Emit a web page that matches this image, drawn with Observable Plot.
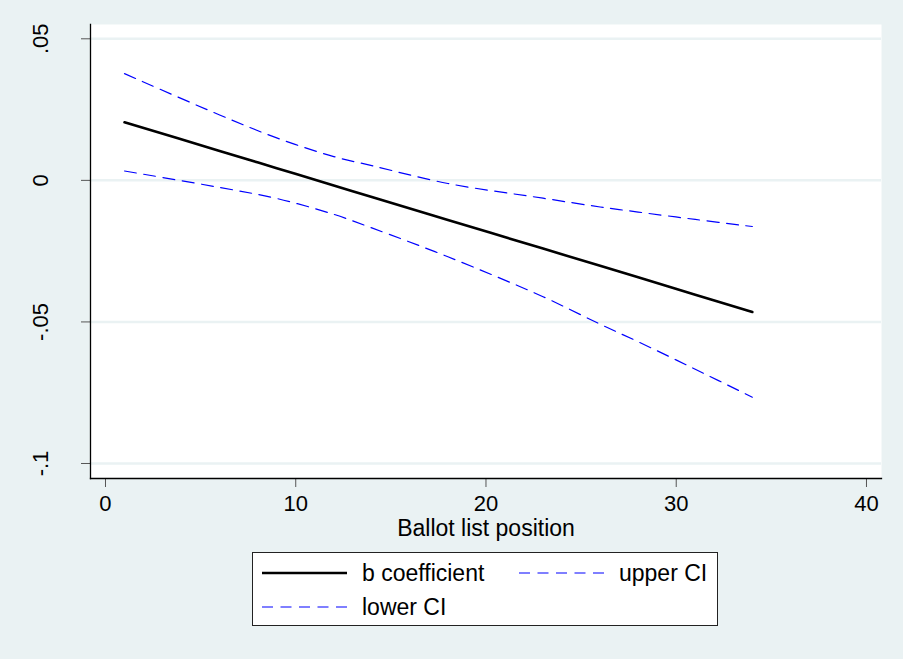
<!DOCTYPE html>
<html>
<head>
<meta charset="utf-8">
<script src="https://cdn.jsdelivr.net/npm/d3@7"></script>
<script src="https://cdn.jsdelivr.net/npm/@observablehq/plot@0.6"></script>
<style>
  html, body { margin: 0; padding: 0; background: #EAF2F3; }
  #wrap { position: relative; width: 903px; height: 659px; background: #EAF2F3; font-family: Arial, "Liberation Sans", sans-serif; overflow: hidden; }
  #chart { position: absolute; left: 0; top: 0; }
  #legend { position: absolute; left: 252px; top: 552px; width: 464px; height: 72px; background: white; border: 1px solid #222; }
</style>
</head>
<body>
<div id="wrap">
  <div id="chart"></div>
  <div id="legend"></div>
</div>
<script>
// Data
const positions   = [1, 6, 9, 12, 14, 18, 23, 26, 28, 31, 34];
const bCoef       = [0.0205, 0.0104, 0.0043, -0.0018, -0.0059, -0.0140, -0.0241, -0.0302, -0.0342, -0.0404, -0.0465];
const upperCI     = [0.0377, 0.0231, 0.0150, 0.0084, 0.0052, -0.0011, -0.0063, -0.0094, -0.0112, -0.0138, -0.0163];
const lowerCI     = [0.0033, -0.0025, -0.0064, -0.0120, -0.0168, -0.0270, -0.0411, -0.0508, -0.0570, -0.0667, -0.0766];
const xTicks      = [0, 10, 20, 30, 40];
const yTicks      = [0.05, 0, -0.05, -0.1];
const yTickLabels = [".05", "0", "-.05", "-.1"];
const seriesNames = ["b coefficient", "upper CI", "lower CI"];
const xTitle      = "Ballot list position";

const toRows = (ys) => positions.map((x, i) => ({x, y: ys[i]}));
const yLabelOf = (v) => yTickLabels[yTicks.indexOf(v)];

const FONT = 'Arial, "Liberation Sans", sans-serif';
const BLUE = "#0000ff";
const DASH = "12,7.5";

const plot = Plot.plot({
  width: 903,
  height: 545,
  marginLeft: 90,
  marginRight: 22,
  marginTop: 24,
  marginBottom: 67,
  style: {background: "transparent", fontFamily: FONT, color: "black"},
  x: {domain: [-0.788, 40.79], axis: null},
  y: {domain: [-0.1053, 0.05505], axis: null},
  marks: [
    Plot.frame({fill: "white", stroke: null}),
    Plot.gridY(yTicks, {stroke: "#EAF2F3", strokeOpacity: 1, strokeWidth: 2.5}),
    Plot.line(toRows(upperCI), {x: "x", y: "y", curve: "catmull-rom", stroke: BLUE, strokeWidth: 1.2, strokeDasharray: DASH}),
    Plot.line(toRows(lowerCI), {x: "x", y: "y", curve: "catmull-rom", stroke: BLUE, strokeWidth: 1.2, strokeDasharray: DASH}),
    Plot.line(toRows(bCoef), {x: "x", y: "y", curve: "catmull-rom", stroke: "black", strokeWidth: 2.6}),
    Plot.axisY(yTicks, {tickSize: 9, stroke: "#555", tickFormat: () => "", label: null}),
    Plot.text(yTicks, {y: (d) => d, text: yLabelOf, frameAnchor: "left", rotate: -90,
      textAnchor: "middle", lineAnchor: "bottom", dx: -43, fontSize: 22, fill: "black"}),
    Plot.axisX(xTicks, {tickSize: 9, tickPadding: 8, stroke: "#555", fill: "black", fontSize: 22, label: null}),
    Plot.frame({anchor: "left", stroke: "black", strokeWidth: 1.3}),
    Plot.frame({anchor: "bottom", stroke: "black", strokeWidth: 1.3}),
    Plot.text([xTitle], {frameAnchor: "bottom", dy: 57, lineAnchor: "bottom", fontSize: 23, fill: "black"})
  ]
});
document.getElementById("chart").appendChild(plot);

// Legend (HTML/SVG, below the chart)
const lg = d3.select("#legend").append("svg").attr("width", 464).attr("height", 72)
  .style("font-family", FONT);
const items = [
  {name: seriesNames[0], stroke: "black", w: 2.6, dash: null, x: 9, y: 20},
  {name: seriesNames[1], stroke: BLUE, w: 1.2, dash: "11,7.5", x: 266, y: 20},
  {name: seriesNames[2], stroke: BLUE, w: 1.2, dash: "11,7.5", x: 9, y: 54}
];
for (const it of items) {
  lg.append("line").attr("x1", it.x).attr("x2", it.x + 85).attr("y1", it.y).attr("y2", it.y)
    .attr("stroke", it.stroke).attr("stroke-width", it.w).attr("stroke-dasharray", it.dash);
  lg.append("text").attr("x", it.x + 100).attr("y", it.y + 8).attr("font-size", 23).attr("fill", "black").text(it.name);
}
</script>
</body>
</html>
